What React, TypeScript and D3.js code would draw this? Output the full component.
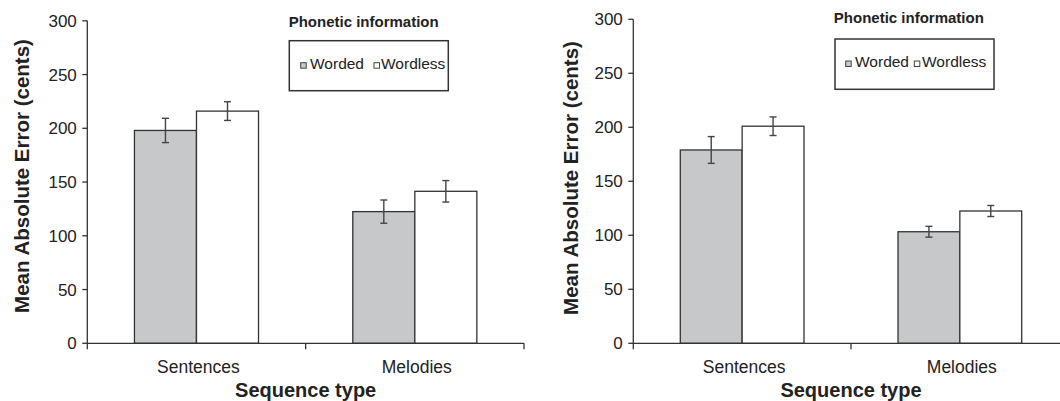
import React from "react";
import * as d3 from "d3";

const categories = ["Sentences", "Melodies"];
const seriesNames = ["Worded", "Wordless"];
const yTicks = [0, 50, 100, 150, 200, 250, 300];

// Panel A
const leftWorded = [198, 122.5];
const leftWordedErr = [11.3, 10.8];
const leftWordless = [216, 141.4];
const leftWordlessErr = [8.7, 10];

// Panel B
const rightWorded = [179, 103.3];
const rightWordedErr = [12.4, 5];
const rightWordless = [201, 122.5];
const rightWordlessErr = [8.6, 5.1];

const legendTitle = "Phonetic information";
const yTitle = "Mean Absolute Error (cents)";
const xTitle = "Sequence type";

const FILLS = ["#c7c8ca", "#ffffff"];
const FONT = "'Liberation Sans', Arial, Helvetica, sans-serif";
const TEXT = "#222";
const LINE = "#333";

type PanelCfg = {
  x0: number; x1: number; yTop: number; yBottom: number;
  box: [number, number, number, number];
  titleX: number; titleY: number;
  yTitleX: number; yTitleY: number;
  leg: [number, number, number, number];
  values: number[][]; errs: number[][];
};

const panels: PanelCfg[] = [
  {
    x0: 87.3, x1: 524, yTop: 20.8, yBottom: 343.3,
    box: [289.3, 40.7, 448.3, 90.7],
    titleX: 363.7, titleY: 26.7,
    yTitleX: 22, yTitleY: 176,
    leg: [11.4, 20.7, 84.7, 91.7],
    values: [leftWorded, leftWordless], errs: [leftWordedErr, leftWordlessErr],
  },
  {
    x0: 633.3, x1: 1068.7, yTop: 19.3, yBottom: 343.3,
    box: [835, 39, 994, 89.3],
    titleX: 908.8, titleY: 23.3,
    yTitleX: 571, yTitleY: 178,
    leg: [10.7, 20, 79.3, 87],
    values: [rightWorded, rightWordless], errs: [rightWordedErr, rightWordlessErr],
  },
];

function Panel({ p }: { p: PanelCfg }) {
  const x = d3.scaleBand<string>().domain(categories).range([p.x0, p.x1]).paddingInner(0).paddingOuter(0);
  const xi = d3.scaleBand<string>().domain(seriesNames).range([0, x.bandwidth()]).paddingInner(0).paddingOuter(0.76);
  const y = d3.scaleLinear().domain([0, 300]).range([p.yBottom, p.yTop]);
  const [bx0, by0, bx1, by1] = p.box;
  const itemY = by0 + 28;
  return (
    <g>
      {/* bars */}
      {categories.map((c, ci) =>
        seriesNames.map((s, si) => {
          const v = p.values[si][ci];
          const bx = (x(c) as number) + (xi(s) as number);
          return (
            <rect key={c + s} x={bx} y={y(v)} width={xi.bandwidth()} height={y(0) - y(v)}
              fill={FILLS[si]} stroke={LINE} strokeWidth={1.3} />
          );
        })
      )}
      {/* error bars */}
      {categories.map((c, ci) =>
        seriesNames.map((s, si) => {
          const v = p.values[si][ci];
          const e = p.errs[si][ci];
          const cx = (x(c) as number) + (xi(s) as number) + xi.bandwidth() / 2;
          return (
            <g key={"e" + c + s} stroke="#444" strokeWidth={1.4}>
              <line x1={cx} x2={cx} y1={y(v + e)} y2={y(v - e)} />
              <line x1={cx - 3.5} x2={cx + 3.5} y1={y(v + e)} y2={y(v + e)} />
              <line x1={cx - 3.5} x2={cx + 3.5} y1={y(v - e)} y2={y(v - e)} />
            </g>
          );
        })
      )}
      {/* y axis */}
      <line x1={p.x0} x2={p.x0} y1={y(300)} y2={y(0) + 6} stroke={LINE} strokeWidth={1.3} />
      {yTicks.map((t) => (
        <g key={t}>
          <line x1={p.x0 - 5} x2={p.x0} y1={y(t)} y2={y(t)} stroke={LINE} strokeWidth={1.3} />
          <text x={p.x0 - 10.5} y={y(t)} dy="0.36em" textAnchor="end" fontSize={17} fill={TEXT} fontFamily={FONT}>{t}</text>
        </g>
      ))}
      {/* x axis */}
      <line x1={p.x0} x2={p.x1} y1={y(0)} y2={y(0)} stroke={LINE} strokeWidth={1.3} />
      {categories.map((c) => (
        <line key={"t" + c} x1={(x(c) as number) + x.bandwidth()} x2={(x(c) as number) + x.bandwidth()}
          y1={y(0)} y2={y(0) + 6} stroke={LINE} strokeWidth={1.3} />
      ))}
      {categories.map((c) => (
        <text key={"l" + c} x={(x(c) as number) + x.bandwidth() / 2 + 2} y={y(0) + 29.5} textAnchor="middle"
          fontSize={17.5} fill={TEXT} fontFamily={FONT}>{c}</text>
      ))}
      <text x={p.x0 + x.bandwidth()} y={y(0) + 53.5} textAnchor="middle" fontSize={20} fontWeight="bold"
        fill={TEXT} fontFamily={FONT}>{xTitle}</text>
      <text transform={`translate(${p.yTitleX},${p.yTitleY}) rotate(-90)`} dy="0.36em" textAnchor="middle"
        fontSize={20.5} fontWeight="bold" fill={TEXT} fontFamily={FONT}>{yTitle}</text>
      {/* legend */}
      <text x={p.titleX} y={p.titleY} textAnchor="middle" fontSize={15} fontWeight="bold" fill={TEXT} fontFamily={FONT}>{legendTitle}</text>
      <rect x={bx0} y={by0} width={bx1 - bx0} height={by1 - by0} fill="#fff" stroke={LINE} strokeWidth={1.5} />
      {seriesNames.map((s, si) => (
        <g key={"lg" + s}>
          <rect x={bx0 + p.leg[si * 2]} y={itemY - 6} width={5.5} height={5.5} fill={FILLS[si]} stroke="#444" strokeWidth={1} />
          <text x={bx0 + p.leg[si * 2 + 1]} y={itemY} fontSize={15.5} fill={TEXT} fontFamily={FONT}>{s}</text>
        </g>
      ))}
    </g>
  );
}

export default function App() {
  return (
    <svg width={1060} height={401} style={{ position: "absolute", left: 0, top: 0, background: "#fff" }}>
      <rect x={0} y={0} width={1060} height={401} fill="#fff" />
      {panels.map((p, i) => (
        <Panel key={i} p={p} />
      ))}
    </svg>
  );
}
